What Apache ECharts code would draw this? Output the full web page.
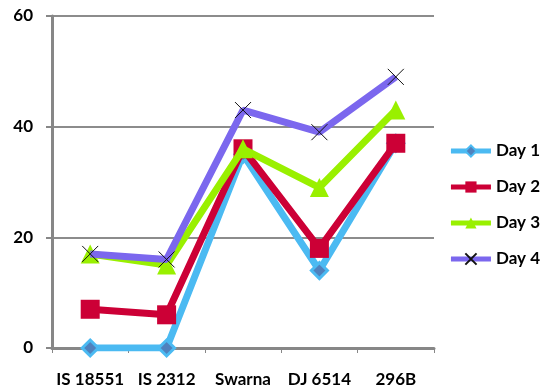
<!DOCTYPE html>
<html>
<head>
<meta charset="utf-8">
<script src="https://cdn.jsdelivr.net/npm/echarts@6/dist/echarts.min.js"></script>
<style>
  html, body { margin: 0; padding: 0; background: #fff; }
  #chart { width: 545px; height: 389px; }
</style>
</head>
<body>
<div id="chart"></div>
<script>
// Genotypes on the x axis
const categories = ['IS 18551', 'IS 2312', 'Swarna', 'DJ 6514', '296B'];

// Measurements per day
const day1 = [0, 0, 35, 14, 37];
const day2 = [7, 6, 36, 18, 37];
const day3 = [17, 15, 36, 29, 43];
const day4 = [17, 16, 43, 39, 49];

const seriesNames = ['Day 1', 'Day 2', 'Day 3', 'Day 4'];
const yTicks = [0, 20, 40, 60];

const FONT = 'Lato';
const crossPath = 'path://M0,0L10,10M10,0L0,10';

const chart = echarts.init(document.getElementById('chart'), null, { renderer: 'canvas' });

chart.setOption({
  animation: false,
  backgroundColor: '#ffffff',
  grid: { left: 52, right: 111, top: 16, bottom: 41 },
  legend: {
    orient: 'vertical',
    right: 0,
    top: 137,
    itemGap: 18,
    itemWidth: 40,
    itemHeight: 14,
    data: seriesNames,
    lineStyle: { width: 5 },
    textStyle: { fontFamily: FONT, fontWeight: 'bold', fontSize: 17, lineHeight: 18, color: '#000' }
  },
  xAxis: {
    type: 'category',
    data: categories,
    boundaryGap: true,
    axisLine: { lineStyle: { color: '#878787', width: 3 } },
    axisTick: { show: true, length: 5, lineStyle: { color: '#878787', width: 1 } },
    axisLabel: { interval: 0, margin: 23, fontFamily: FONT, fontWeight: 'bold', fontSize: 17, color: '#000' }
  },
  yAxis: {
    type: 'value',
    min: yTicks[0],
    max: yTicks[yTicks.length - 1],
    interval: 20,
    axisLine: { show: true, lineStyle: { color: '#878787', width: 3 } },
    axisTick: { show: true, length: 6, lineStyle: { color: '#878787', width: 2 } },
    splitLine: { lineStyle: { color: '#8c8c8c', width: 2 } },
    axisLabel: { margin: 19, fontFamily: FONT, fontWeight: 'bold', fontSize: 17, color: '#000' }
  },
  series: [
    {
      name: seriesNames[0], type: 'line', data: day1, z: 2,
      symbol: 'diamond', symbolSize: 16,
      lineStyle: { color: '#4bbaf2', width: 7 },
      itemStyle: { color: '#4f81bd', borderColor: '#4bbaf2', borderWidth: 3 }
    },
    {
      name: seriesNames[1], type: 'line', data: day2, z: 3,
      symbol: 'rect', symbolSize: 19,
      lineStyle: { color: '#cc0036', width: 7 },
      itemStyle: { color: '#cc0036', borderWidth: 0 }
    },
    {
      name: seriesNames[2], type: 'line', data: day3, z: 4,
      symbol: 'triangle', symbolSize: 19,
      lineStyle: { color: '#99f000', width: 7 },
      itemStyle: { color: '#99f000', borderWidth: 0 }
    },
    {
      name: seriesNames[3], type: 'line', data: day4, z: 5,
      symbol: crossPath, symbolSize: 16,
      lineStyle: { color: '#7b67ee', width: 7 },
      itemStyle: { color: 'rgba(0,0,0,0)', borderColor: '#111', borderWidth: 1 }
    }
  ]
});
</script>
</body>
</html>
